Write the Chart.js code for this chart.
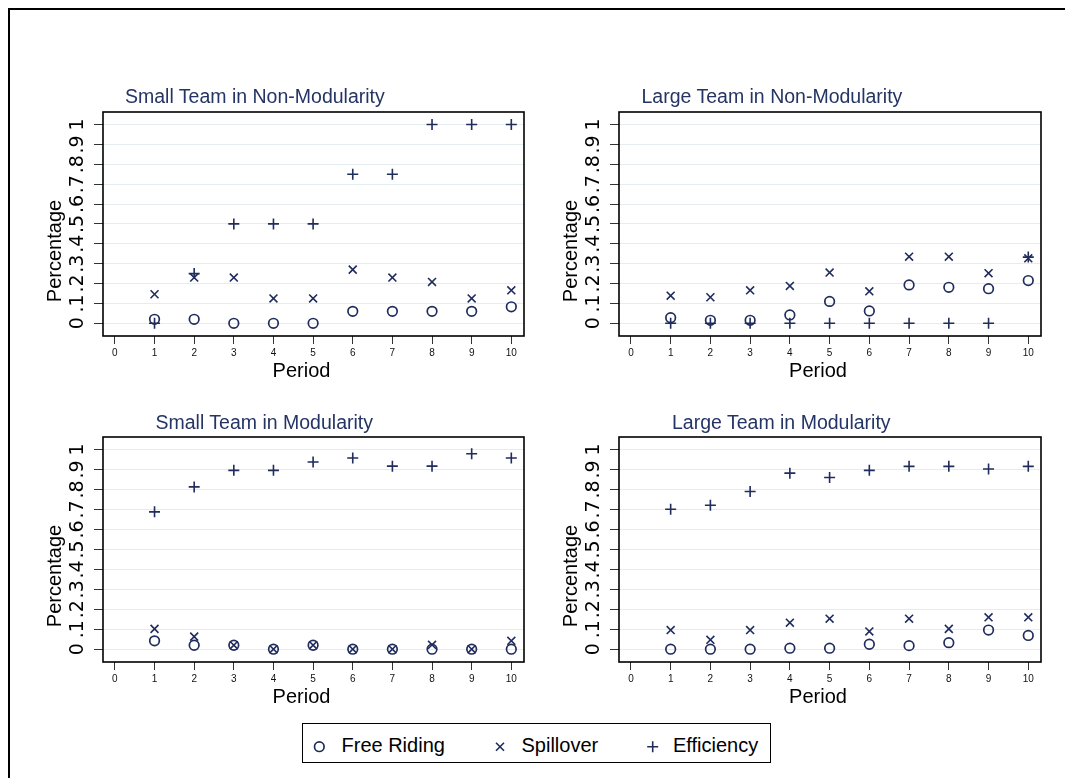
<!DOCTYPE html>
<html><head><meta charset="utf-8">
<script src="https://cdn.jsdelivr.net/npm/chart.js@4.4.1/dist/chart.umd.min.js"></script>
<style>
html,body{margin:0;padding:0;background:#fff;width:1065px;height:778px;overflow:hidden;position:relative;font-family:'Liberation Sans',Arial,sans-serif;}
.fl{position:absolute;background:#000;}
canvas{position:absolute;}
.t{position:absolute;white-space:nowrap;font-size:19.5px;line-height:20px;height:20px;z-index:2;}
.title{color:#243464;}
.ax{color:#000;text-align:center;width:200px;font-size:20px;}
.rot{transform:rotate(-90deg);}
.legend{position:absolute;left:302px;top:723px;width:469px;height:40px;border:1.5px solid #000;box-sizing:border-box;background:#fff;}
</style></head>
<body>
<div class="fl" style="left:8px;top:8px;width:1057px;height:2px"></div>
<div class="fl" style="left:8px;top:8px;width:2px;height:770px"></div>
<canvas id="c1" width="474" height="274" style="left:58px;top:92px"></canvas>
<canvas id="c2" width="475" height="274" style="left:574px;top:92px"></canvas>
<canvas id="c3" width="474" height="275" style="left:58px;top:417px"></canvas>
<canvas id="c4" width="475" height="275" style="left:574px;top:417px"></canvas>

<div class="t title" style="left:125px;top:86px">Small Team in Non-Modularity</div>
<div class="t title" style="left:641.5px;top:86px">Large Team in Non-Modularity</div>
<div class="t title" style="left:155.5px;top:412px">Small Team in Modularity</div>
<div class="t title" style="left:672px;top:412px">Large Team in Modularity</div>

<div class="t ax rot" style="left:-46px;top:241px">Percentage</div>
<div class="t ax rot" style="left:470px;top:241px">Percentage</div>
<div class="t ax rot" style="left:-46px;top:566px">Percentage</div>
<div class="t ax rot" style="left:470px;top:566px">Percentage</div>

<div class="t ax" style="left:201.5px;top:360px">Period</div>
<div class="t ax" style="left:718px;top:360px">Period</div>
<div class="t ax" style="left:201.5px;top:685.5px">Period</div>
<div class="t ax" style="left:718px;top:685.5px">Period</div>

<div class="legend"></div>
<svg style="position:absolute;left:0;top:0;z-index:3" width="1065" height="778">
  <circle cx="319.3" cy="746.7" r="4.8" fill="none" stroke="#1f2c5c" stroke-width="1.7"/>
  <path d="M496 742.7 L504 750.7 M504 742.7 L496 750.7" stroke="#1f2c5c" stroke-width="1.6"/>
  <path d="M647.2 746.7 L658.2 746.7 M652.7 741.2 L652.7 752.2" stroke="#1f2c5c" stroke-width="1.6"/>
</svg>
<div class="t" id="lg1" style="left:341.5px;top:735px;font-size:20px"></div>
<div class="t" id="lg2" style="left:521.5px;top:735px;font-size:20px"></div>
<div class="t" id="lg3" style="left:673px;top:735px;font-size:20px"></div>

<script>
// ---- data ----
const periods = [1, 2, 3, 4, 5, 6, 7, 8, 9, 10];
const xTickLabels = ['0','1','2','3','4','5','6','7','8','9','10'];
const yTickLabels = ['0','.1','.2','.3','.4','.5','.6','.7','.8','.9','1'];
const seriesNames = ['Free Riding', 'Spillover', 'Efficiency'];

const smallNonModFree  = [0.02, 0.02, 0, 0, 0, 0.06, 0.06, 0.06, 0.06, 0.083];
const smallNonModSpill = [0.146, 0.23, 0.23, 0.125, 0.125, 0.27, 0.23, 0.208, 0.125, 0.166];
const smallNonModEff   = [0, 0.25, 0.5, 0.5, 0.5, 0.75, 0.75, 1, 1, 1];

const largeNonModFree  = [0.028, 0.015, 0.015, 0.042, 0.11, 0.062, 0.193, 0.181, 0.174, 0.215];
const largeNonModSpill = [0.139, 0.131, 0.166, 0.188, 0.255, 0.161, 0.335, 0.335, 0.252, 0.327];
const largeNonModEff   = [0, 0, 0, 0, 0, 0, 0, 0, 0, 0.333];

const smallModFree  = [0.042, 0.02, 0.02, 0, 0.02, 0, 0, 0, 0, 0];
const smallModSpill = [0.102, 0.063, 0.02, 0, 0.02, 0, 0, 0.022, 0, 0.042];
const smallModEff   = [0.688, 0.813, 0.896, 0.896, 0.938, 0.958, 0.917, 0.917, 0.979, 0.958];

const largeModFree  = [0, 0, 0, 0.005, 0.005, 0.025, 0.018, 0.033, 0.096, 0.069];
const largeModSpill = [0.096, 0.047, 0.096, 0.133, 0.153, 0.089, 0.153, 0.102, 0.16, 0.16];
const largeModEff   = [0.701, 0.721, 0.79, 0.882, 0.86, 0.896, 0.916, 0.916, 0.903, 0.916];

// ---- drawing ----
const NAVY = '#1f2c5c';
document.getElementById('lg1').textContent = seriesNames[0];
document.getElementById('lg2').textContent = seriesNames[1];
document.getElementById('lg3').textContent = seriesNames[2];

function pts(arr) { return periods.map((p, i) => ({ x: p, y: arr[i] })); }

const boxPlugin = {
  id: 'box',
  beforeDatasetsDraw(chart) {
    const { ctx, chartArea: a } = chart;
    ctx.save();
    ctx.strokeStyle = '#000';
    ctx.lineWidth = 1.6;
    ctx.strokeRect(a.left, a.top, a.right - a.left, a.bottom - a.top);
    ctx.restore();
  }
};

function makeChart(id, free, spill, eff) {
  new Chart(document.getElementById(id), {
    type: 'scatter',
    data: {
      datasets: [
        { label: seriesNames[0], data: pts(free), pointStyle: 'circle', pointRadius: 4.8,
          pointBorderWidth: 1.7, pointBorderColor: NAVY, pointBackgroundColor: 'rgba(0,0,0,0)' },
        { label: seriesNames[1], data: pts(spill), pointStyle: 'crossRot', pointRadius: 5.6,
          pointBorderWidth: 1.6, pointBorderColor: NAVY, pointBackgroundColor: NAVY },
        { label: seriesNames[2], data: pts(eff), pointStyle: 'cross', pointRadius: 5.5,
          pointBorderWidth: 1.6, pointBorderColor: NAVY, pointBackgroundColor: NAVY }
      ]
    },
    options: {
      responsive: false, animation: false, devicePixelRatio: 1,
      layout: { padding: { top: 20, right: 8, left: 0, bottom: 0 } },
      plugins: { legend: { display: false }, tooltip: { enabled: false }, title: { display: false } },
      scales: {
        x: {
          type: 'linear', min: -0.3, max: 10.32,
          ticks: { stepSize: 1, includeBounds: false, autoSkip: false, maxRotation: 0, padding: 3,
                   color: '#111', font: { family: 'Liberation Sans', size: 10 },
                   callback: v => xTickLabels[Math.round(v)] },
          grid: { drawOnChartArea: false, drawTicks: true, tickLength: 8, tickColor: '#333', tickWidth: 1 },
          border: { display: false },
          afterFit(s) { s.height = 30; s.paddingLeft = 0; s.paddingRight = 0; }
        },
        y: {
          type: 'linear', min: -0.064, max: 1.063,
          ticks: { stepSize: 0.1, includeBounds: false, autoSkip: false, minRotation: 90, maxRotation: 90,
                   crossAlign: 'center', padding: 7, color: '#000',
                   font: { family: 'DejaVu Sans', size: 19 },
                   callback: v => yTickLabels[Math.round(v * 10)] },
          grid: { color: '#e3ecef', lineWidth: 1, drawTicks: true, tickLength: 9, tickColor: '#333', tickWidth: 1 },
          border: { display: false },
          afterFit(s) { s.width = 45; s.paddingTop = 0; s.paddingBottom = 0; }
        }
      }
    },
    plugins: [boxPlugin]
  });
}

makeChart('c1', smallNonModFree, smallNonModSpill, smallNonModEff);
makeChart('c2', largeNonModFree, largeNonModSpill, largeNonModEff);
makeChart('c3', smallModFree, smallModSpill, smallModEff);
makeChart('c4', largeModFree, largeModSpill, largeModEff);
</script>
</body></html>
